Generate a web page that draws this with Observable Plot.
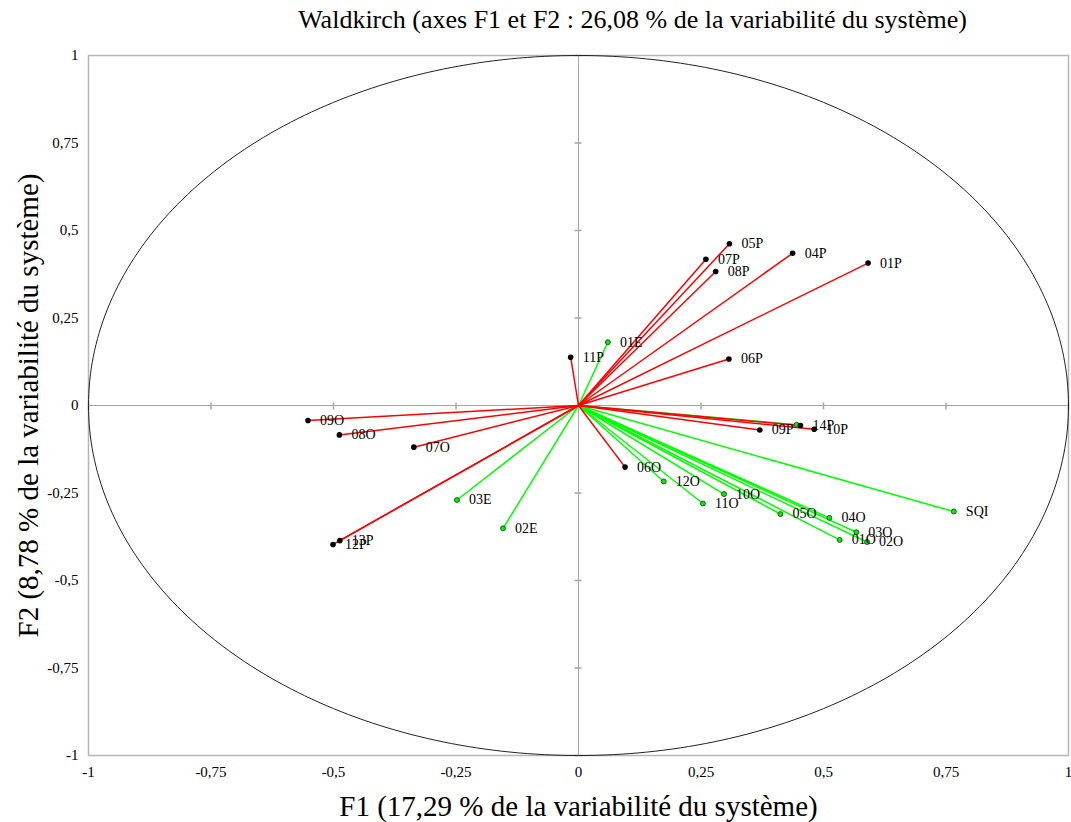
<!DOCTYPE html>
<html>
<head>
<meta charset="utf-8">
<script src="https://cdn.jsdelivr.net/npm/d3@7"></script>
<script src="https://cdn.jsdelivr.net/npm/@observablehq/plot@0.6"></script>
<style>
  body { margin: 0; background: #fff; }
  #title { width: 1071px; height: 40px; line-height: 40px; box-sizing: border-box; padding-left: 194px;
           text-align: center; font-family: "Liberation Serif", serif; font-size: 26px; color: #000; white-space: nowrap; }
  #chart svg text { font-family: "Liberation Serif", serif !important; }
  #chart g[aria-label$="tick label"] { font-size: 15px !important; font-variant: normal !important; }
</style>
</head>
<body>
<div id="title">Waldkirch (axes F1 et F2 : 26,08 % de la variabilité du système)</div>
<div id="chart"></div>
<script>
// Active variables (red vectors, black points)
const redLabels = ["01P","04P","05P","06P","07P","08P","09P","10P","11P","12P","13P","14P","06O","07O","08O","09O"];
const redX = [0.591, 0.437, 0.308, 0.307, 0.260, 0.280, 0.370, 0.481, -0.016, -0.501, -0.487, 0.453, 0.095, -0.336, -0.488, -0.552];
const redY = [0.407, 0.435, 0.462, 0.133, 0.418, 0.383, -0.070, -0.068, 0.138, -0.397, -0.386, -0.057, -0.176, -0.119, -0.084, -0.043];

// Supplementary variables (green vectors, green points)
const greenLabels = ["01E","02E","03E","01O","02O","03O","04O","05O","10O","11O","12O","SQI",""];
const greenX = [0.060, -0.154, -0.248, 0.533, 0.589, 0.567, 0.512, 0.412, 0.297, 0.254, 0.174, 0.766, 0.445];
const greenY = [0.181, -0.351, -0.270, -0.384, -0.390, -0.362, -0.321, -0.310, -0.253, -0.280, -0.217, -0.303, -0.055];

const tickValues = [-1, -0.75, -0.5, -0.25, 0, 0.25, 0.5, 0.75, 1];
const xLabel = "F1 (17,29 % de la variabilité du système)";
const yLabel = "F2 (8,78 % de la variabilité du système)";

const red = redLabels.map((l, i) => ({label: l, x: redX[i], y: redY[i]}));
const green = greenLabels.map((l, i) => ({label: l, x: greenX[i], y: greenY[i]}));
const circle = d3.range(0, 361).map(a => ({x: Math.cos(a * Math.PI / 180), y: Math.sin(a * Math.PI / 180)}));
const fmt = d => String(d).replace(".", ",");
const serif = "'Liberation Serif', serif";

const vTick = {draw(ctx) { ctx.moveTo(0, -3); ctx.lineTo(0, 4); }};
const hTick = {draw(ctx) { ctx.moveTo(-4, 0); ctx.lineTo(3, 0); }};

const chart = Plot.plot({
  width: 1071,
  height: 782,
  marginTop: 15,
  marginBottom: 67,
  marginLeft: 88,
  marginRight: 3,
  style: {fontFamily: serif, fontSize: "13px", color: "#000", background: "#fff"},
  x: {domain: [-1, 1]},
  y: {domain: [-1, 1]},
  marks: [
    Plot.ruleX([0], {stroke: "#a6a6a6", strokeWidth: 1}),
    Plot.ruleY([0], {stroke: "#a6a6a6", strokeWidth: 1}),
    Plot.dot(tickValues, {x: d => d, y: 0, symbol: vTick, stroke: "#a6a6a6", r: 4}),
    Plot.dot(tickValues, {x: 0, y: d => d, symbol: hTick, stroke: "#a6a6a6", r: 4}),
    Plot.frame({stroke: "#b5b5b5", strokeWidth: 1.5}),
    Plot.line(circle, {x: "x", y: "y", stroke: "#222", strokeWidth: 1}),
    Plot.axisX({ticks: tickValues, tickSize: 0, tickPadding: 11, tickFormat: fmt, label: null, fontSize: 15, fontFamily: serif, fill: "#000"}),
    Plot.axisY({ticks: tickValues, tickSize: 0, tickPadding: 10, tickFormat: fmt, label: null, fontSize: 15, fontFamily: serif, fill: "#000"}),
    Plot.link(green, {x1: 0, y1: 0, x2: "x", y2: "y", stroke: "#00ff00", strokeWidth: 1.5}),
    Plot.link(red, {x1: 0, y1: 0, x2: "x", y2: "y", stroke: "#ff0000", strokeWidth: 1.5}),
    Plot.dot(green, {x: "x", y: "y", r: 2.5, fill: "#00ee00", stroke: "#1a3a1a", strokeWidth: 0.8}),
    Plot.dot(red, {x: "x", y: "y", r: 2.8, fill: "#000"}),
    Plot.text(green, {x: "x", y: "y", text: "label", dx: 12, textAnchor: "start", fontSize: 14, fontFamily: serif, fill: "#000"}),
    Plot.text(red, {x: "x", y: "y", text: "label", dx: 12, textAnchor: "start", fontSize: 14, fontFamily: serif, fill: "#000"}),
    Plot.text([xLabel], {frameAnchor: "bottom", lineAnchor: "middle", textAnchor: "middle", dy: 51, text: d => d, fontSize: 29, fontFamily: serif, fill: "#000"}),
    Plot.text([yLabel], {frameAnchor: "left", lineAnchor: "middle", textAnchor: "middle", dx: -60, rotate: -90, text: d => d, fontSize: 29, fontFamily: serif, fill: "#000"})
  ]
});
document.getElementById("chart").appendChild(chart);
</script>
</body>
</html>
